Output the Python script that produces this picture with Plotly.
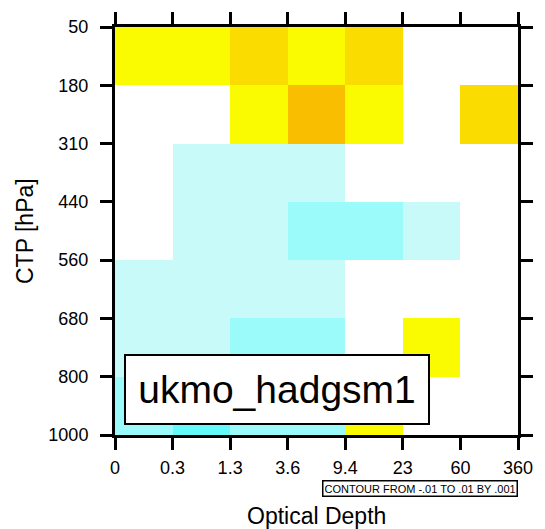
import plotly.graph_objects as go

# Joint histogram difference: cloud-top pressure vs optical depth bins
tau_labels = ["0", "0.3", "1.3", "3.6", "9.4", "23", "60", "360"]
ctp_labels = ["50", "180", "310", "440", "560", "680", "800", "1000"]

# rows: CTP bins top (50-180) to bottom (800-1000); columns: tau bins
row_50_180 = [0.0015, 0.0015, 0.0025, 0.0015, 0.0025, 0.0, 0.0]
row_180_310 = [0.0, 0.0, 0.0015, 0.0035, 0.0015, 0.0, 0.0025]
row_310_440 = [0.0, -0.0015, -0.0015, -0.0015, 0.0, 0.0, 0.0]
row_440_560 = [0.0, -0.0015, -0.0015, -0.0025, -0.0025, -0.0015, 0.0]
row_560_680 = [-0.0015, -0.0015, -0.0015, -0.0015, 0.0, 0.0, 0.0]
row_680_800 = [-0.0015, -0.0015, -0.0025, -0.0025, 0.0, 0.0015, 0.0]
row_800_1000 = [-0.0025, -0.0035, -0.0025, -0.0025, 0.0015, 0.0, 0.0]

z = [row_50_180, row_180_310, row_310_440, row_440_560,
     row_560_680, row_680_800, row_800_1000]

model_name = "ukmo_hadgsm1"
contour_info = "CONTOUR FROM -.01 TO .01 BY .001"

# contour levels -0.01..0.01 by 0.001 -> 20 filled bins
bin_colors = [
    "#0A28A0", "#1446C8", "#1E64E6", "#2882F0", "#32A0FA", "#3CC8FA",
    "#64FAFA", "#9BFAFA", "#C8FAFA", "#FFFFFF",
    "#FFFFFF", "#FAFA00", "#FADC00", "#FABE00", "#FA9600", "#FA7800",
    "#FA5000", "#E62800", "#C81400", "#A00000",
]
nb = len(bin_colors)
colorscale = []
for i, c in enumerate(bin_colors):
    colorscale.append([i / nb, c])
    colorscale.append([(i + 1) / nb, c])

edges = list(range(len(tau_labels)))
yedges = list(range(len(ctp_labels)))

fig = go.Figure(go.Heatmap(
    x=edges, y=yedges, z=z,
    zmin=-0.01, zmax=0.01,
    colorscale=colorscale, showscale=False,
    hoverinfo="skip",
))

font = "Liberation Sans, Arial, Helvetica, sans-serif"
axis_common = dict(
    showgrid=False, zeroline=False,
    showline=True, linecolor="black", linewidth=3,
    mirror="allticks", ticks="outside", ticklen=12, tickwidth=3,
    tickcolor="black",
    tickfont=dict(family=font, size=18, color="black"),
)

fig.update_layout(
    width=545, height=529,
    margin=dict(l=115, r=23, t=27, b=94),
    paper_bgcolor="white", plot_bgcolor="white",
    xaxis=dict(range=[0, 7], tickvals=edges, ticktext=tau_labels,
               ticklabelstandoff=2, **axis_common),
    yaxis=dict(range=[7, 0], tickvals=yedges, ticktext=ctp_labels,
               ticklabelstandoff=8, **axis_common),
    annotations=[
        dict(text="Optical Depth", xref="paper", yref="paper", x=0.5, y=-0.1985,
             xanchor="center", yanchor="middle", showarrow=False,
             font=dict(family=font, size=23, color="black")),
        dict(text="CTP [hPa]", xref="paper", yref="paper", x=0, y=0.5,
             xshift=-90, xanchor="center", yanchor="middle", textangle=-90,
             showarrow=False, font=dict(family=font, size=23, color="black")),
        dict(text=model_name, xref="paper", yref="paper", x=0.022, y=0.0245,
             xanchor="left", yanchor="bottom", showarrow=False,
             width=284, height=49,
             bgcolor="white", bordercolor="black", borderwidth=2, borderpad=9,
             font=dict(family=font, size=39, color="black")),
        dict(text=contour_info, xref="paper", yref="paper", x=1.0, y=-0.132,
             xanchor="right", yanchor="middle", showarrow=False,
             height=12,
             bgcolor="white", bordercolor="black", borderwidth=1.5, borderpad=1,
             font=dict(family=font, size=11, color="black")),
    ],
)

fig.write_html("out.html")
